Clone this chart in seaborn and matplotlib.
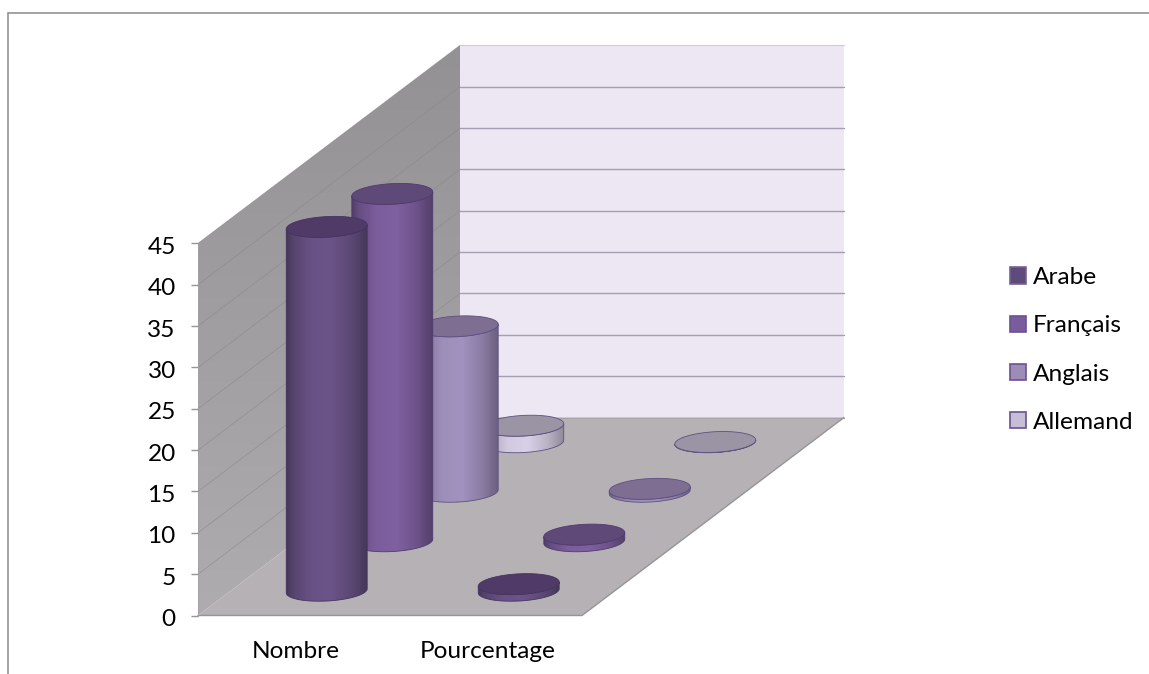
import numpy as np
import matplotlib
matplotlib.use("Agg")
import matplotlib.pyplot as plt
from matplotlib.colors import to_rgb
from matplotlib.lines import Line2D
from matplotlib.patches import Patch, Polygon
from matplotlib.transforms import ScaledTranslation
import seaborn as sns

# Data
categories = ["Nombre", "Pourcentage"]
series_names = ["Arabe", "Français", "Anglais", "Allemand"]
arabe = [44, 0.8]
francais = [42, 0.8]
anglais = [20, 0.35]
allemand = [2, 0.03]
value_ticks = list(range(0, 50, 5))

# Series colours
body_colors = sns.color_palette(["#6b5488", "#7f60a1", "#a292bf", "#d8d0e6"])
top_colors = sns.color_palette(["#503b68", "#5e4979", "#7e6f92", "#9b94a5"])
edge_colors = sns.color_palette(["#46345e", "#4f3c6e", "#5f4f80", "#5f5080"])
legend_fill = sns.color_palette(["#5f4a7c", "#7a5c9e", "#9d8bb8", "#c6bdd6"])
legend_edge = sns.color_palette(["#75628f", "#6a5290", "#6a5290", "#6a5290"])

sns.set_theme(style="white")
plt.rcParams["font.family"] = ["Lato", "DejaVu Sans"]
FONT = 17.6

W, H = 1149, 674
fig = plt.figure(figsize=(W / 100, H / 100), dpi=100, facecolor="white")
ax = fig.add_axes([0, 0, 1, 1])
ax.patch.set_visible(False)

# Axis scales: one category spans 192 px, one value unit 8.27 px
PX_X, PX_Y = 192.0, 8.27
X0, Y0 = 198.0, 615.5
xlim = (-X0 / PX_X, (W - X0) / PX_X)
ylim = ((Y0 - H) / PX_Y, Y0 / PX_Y)

# Oblique depth of the floor and radii of a cylinder, in data units
DX, DY = 262.0 / PX_X, 198.0 / PX_Y
RX, SKEW, RY = 39.7 / PX_X, 8.0 / PX_X, 10.5 / PX_Y
VMAX = 45
n_cat, n_ser = len(categories), len(series_names)


def gradient(x0, x1, y0, y1, rgb, clip, z):
    """Paint an image gradient inside a clip patch; rgb has shape (rows, cols, 3)."""
    im = ax.imshow(rgb, extent=(x0, x1, y0, y1), origin="lower",
                   aspect="auto", interpolation="bilinear", zorder=z)
    clip.set_transform(ax.transData)
    im.set_clip_path(clip)


def rim(cx, cy, t0, t1):
    t = np.linspace(t0, t1, 60)
    return np.column_stack([cx + RX * np.cos(t) + SKEW * np.sin(t), cy + RY * np.sin(t)])


def cylinder(cat, ser, value, body, top, edge, z):
    """Draw one shaded cylinder standing on the floor."""
    f = (ser + 0.5) / n_ser
    cx = cat + 0.5 + f * DX
    base = f * DY
    t0 = np.arctan2(SKEW, RX)
    # Side: lower half of the base rim, then lower half of the top rim back
    lower_base = rim(cx, base, t0 + np.pi, t0 + 2 * np.pi)
    lower_top = rim(cx, base + value, t0 + 2 * np.pi, t0 + np.pi)
    side = np.vstack([lower_base, lower_top])
    half = np.hypot(RX, SKEW)
    stops = [0.0, 0.08, 0.3, 0.55, 0.8, 1.0]
    shade = [0.64, 0.8, 0.97, 1.0, 0.86, 0.66]
    u = np.linspace(0, 1, 200)
    k = np.interp(u, stops, shade)
    rgb = np.clip(np.array(to_rgb(body))[None, None, :] * k[None, :, None], 0, 1)
    bottom = side[:, 1].min()
    upper = side[:, 1].max()
    clip = Polygon(side, closed=True, facecolor="none", edgecolor="none")
    gradient(cx - half, cx + half, bottom, upper, rgb, clip, z)
    ax.add_patch(Polygon(side, closed=True, facecolor="none", edgecolor=edge,
                         linewidth=0.6, zorder=z + 0.1))
    ring = rim(cx, base + value, 0, 2 * np.pi)
    ax.add_patch(Polygon(ring, closed=True, facecolor=top, edgecolor=edge,
                         linewidth=0.6, zorder=z + 0.2))


# Side wall
wall = np.array([[0, 0], [0, VMAX], [DX, VMAX + DY], [DX, DY]])
c_top, c_low = np.array(to_rgb("#949194")), np.array(to_rgb("#aeacae"))
ramp = np.linspace(0, 1, 100)[:, None, None]
wall_rgb = c_low[None, None, :] * (1 - ramp) + c_top[None, None, :] * ramp
gradient(0, DX, 0, VMAX + DY, wall_rgb,
         Polygon(wall, closed=True, facecolor="none", edgecolor="none"), 1)

# Back wall and floor
ax.add_patch(Polygon([[DX, DY], [DX, VMAX + DY], [DX + n_cat, VMAX + DY], [DX + n_cat, DY]],
                     closed=True, facecolor="#ece7f2", edgecolor="none", zorder=1))
ax.add_patch(Polygon([[0, 0], [n_cat, 0], [n_cat + DX, DY], [DX, DY]],
                     closed=True, facecolor="#b5b1b5", edgecolor="none", zorder=1.2))

# Value gridlines across both walls
for v in value_ticks[1:]:
    ax.plot([0, DX], [v, v + DY], color="#8a888b", lw=0.5, alpha=0.75, zorder=1.1)
    if v < VMAX:
        ax.plot([DX, DX + n_cat], [v + DY, v + DY], color="#a79fb1", lw=1.0, zorder=1.1)
ax.plot([DX, DX + n_cat], [VMAX + DY, VMAX + DY], color="#cfcbd3", lw=0.8, zorder=1.1)
ax.plot([DX, DX + n_cat], [DY, DY], color="#a8a4aa", lw=0.8, zorder=1.25)
ax.plot([0, n_cat, n_cat + DX], [0, 0, DY], color="#969496", lw=1.0, zorder=1.3)

# Cylinders, painted from the back row to the front row
all_series = [arabe, francais, anglais, allemand]
z = 2.0
for ser in range(n_ser - 1, -1, -1):
    for cat in range(n_cat):
        cylinder(cat, ser, all_series[ser][cat], body_colors[ser], top_colors[ser],
                 edge_colors[ser], z)
        z += 1.0

# Axes
ax.set_xlim(xlim)
ax.set_ylim(ylim)
ax.set_yticks(value_ticks)
ax.set_xticks(np.arange(n_cat) + 0.5, categories)
sns.despine(ax=ax, top=True, right=True)
ax.spines["left"].set_position(("data", 0))
ax.spines["left"].set_bounds(0, VMAX)
ax.spines["left"].set_color("#a3a1a3")
ax.spines["left"].set_linewidth(0.6)
ax.spines["bottom"].set_visible(False)
ax.xaxis.set_ticks_position("bottom")
ax.tick_params(axis="y", left=True, length=5, width=1.0, color="#969496", pad=11,
               labelsize=FONT, labelcolor="black")
ax.tick_params(axis="x", bottom=False, length=0, labelsize=FONT, labelcolor="black")

# Category labels sit below the floor, value labels slightly under their ticks
nudge_x = ScaledTranslation(2 / 100, 0, fig.dpi_scale_trans)
nudge_y = ScaledTranslation(0, -2 / 100, fig.dpi_scale_trans)
for lab in ax.get_xticklabels():
    lab.set_y(-4.3)
    lab.set_verticalalignment("center")
    lab.set_transform(ax.transData + nudge_x)
for lab in ax.get_yticklabels():
    lab.set_transform(lab.get_transform() + nudge_y)
ax.set_axisbelow(False)

# Legend
handles = [Patch(facecolor=legend_fill[i], edgecolor=legend_edge[i], linewidth=1.2,
                 label=series_names[i]) for i in range(n_ser)]
ax.legend(handles=handles, loc="center left", frameon=False, fontsize=FONT,
          bbox_to_anchor=(1010 / W, 1 - 350 / H), bbox_transform=fig.transFigure,
          borderpad=0, borderaxespad=0, handlelength=0.65, handleheight=0.65,
          handletextpad=0.27, labelspacing=1.115, labelcolor="black")

# Outer frame of the chart area
frame = dict(color="#8a8a8a", linewidth=1.1, transform=fig.transFigure)
fig.add_artist(Line2D([8 / W, 8 / W], [0, 1 - 13 / H], **frame))
fig.add_artist(Line2D([8 / W, 1], [1 - 13 / H, 1 - 13 / H], **frame))

fig.savefig("out.png", dpi=100, facecolor="white")
